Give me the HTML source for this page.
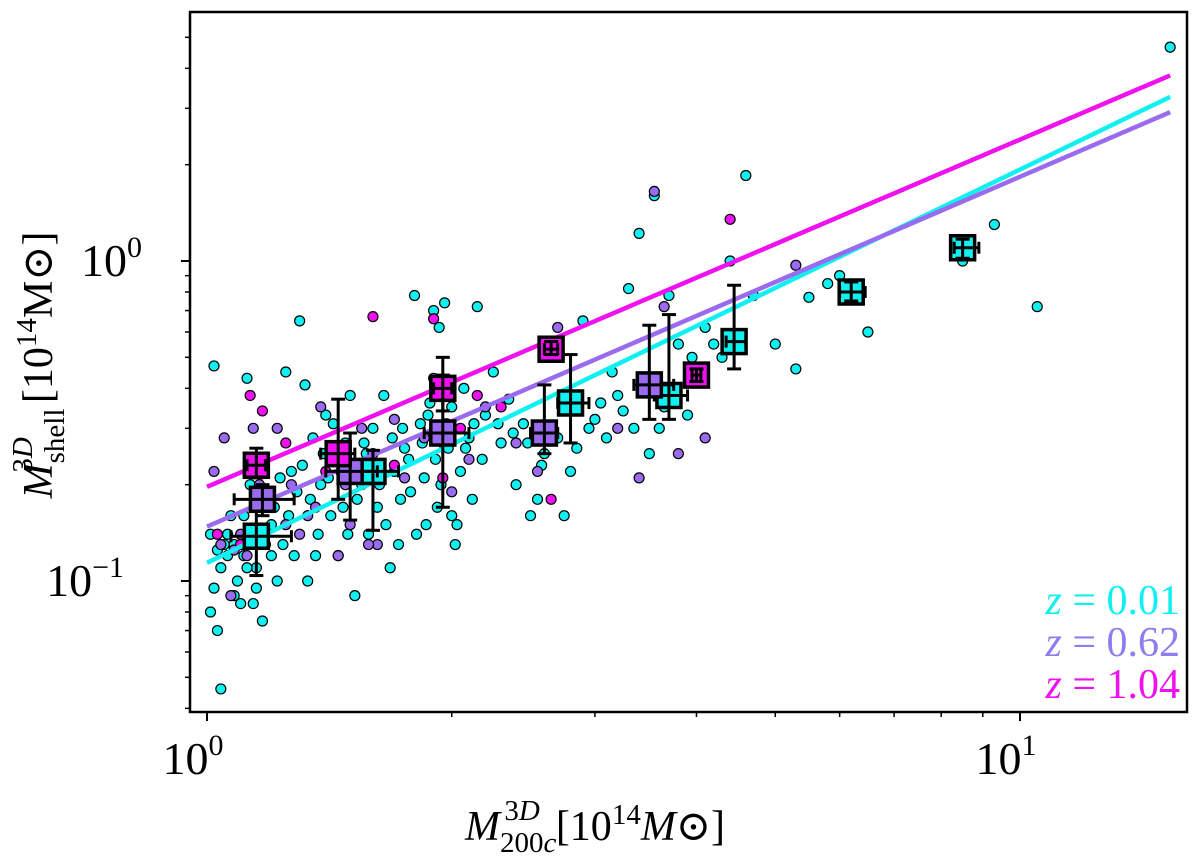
<!DOCTYPE html>
<html><head><meta charset="utf-8">
<style>
html,body{margin:0;padding:0;background:#fff;}
svg{display:block;font-family:"Liberation Serif","DejaVu Serif",serif;}
</style></head>
<body>
<svg id="chart" width="1200" height="860" viewBox="0 0 1200 860" xmlns="http://www.w3.org/2000/svg">
<g id="plot"></g>
<g id="axes"></g>
<text x="595" y="840" font-size="42" text-anchor="middle"><tspan font-style="italic">M</tspan><tspan font-size="29" dy="12">200<tspan font-style="italic">c</tspan></tspan><tspan font-size="29" dy="-32" dx="-52">3<tspan font-style="italic">D</tspan></tspan><tspan dy="20" dx="16">[10</tspan><tspan font-size="29" dy="-16">14</tspan><tspan dy="16" font-style="italic">M</tspan><tspan>⊙]</tspan></text>
<text transform="translate(52,365) rotate(-90)" font-size="42" text-anchor="middle"><tspan font-style="italic">M</tspan><tspan font-size="29" dy="12">shell</tspan><tspan font-size="29" dy="-32" dx="-64">3<tspan font-style="italic">D</tspan></tspan><tspan dy="20" dx="34">[10</tspan><tspan font-size="29" dy="-16">14</tspan><tspan dy="16">M⊙]</tspan></text>
<g font-size="42" text-anchor="end">
<text x="1180" y="614" fill="#11f0f0"><tspan font-style="italic">z</tspan> = 0.01</text>
<text x="1180" y="656" fill="#8a7ef0"><tspan font-style="italic">z</tspan> = 0.62</text>
<text x="1180" y="698" fill="#f011f0"><tspan font-style="italic">z</tspan> = 1.04</text>
</g>
</svg>
<script>
const cyanPts=[[1.02,0.47],[1.03,0.07],[1.04,0.046],[1.01,0.08],[1.05,0.13],[1.06,0.12],[1.08,0.09],[1.1,0.085],[1.12,0.43],[1.13,0.2],[1.15,0.11],[1.17,0.075],[1.2,0.15],[1.22,0.1],[1.25,0.45],[1.28,0.12],[1.3,0.65],[1.32,0.41],[1.35,0.28],[1.37,0.14],[1.4,0.33],[1.42,0.16],[1.45,0.12],[1.48,0.27],[1.5,0.38],[1.52,0.09],[1.55,0.2],[1.58,0.14],[1.6,0.3],[1.62,0.17],[1.65,0.38],[1.7,0.22],[1.72,0.13],[1.75,0.26],[1.78,0.19],[1.8,0.78],[1.83,0.31],[1.86,0.15],[1.9,0.7],[1.93,0.62],[1.96,0.74],[2.0,0.35],[2.03,0.15],[2.05,0.22],[2.1,0.28],[2.15,0.72],[2.2,0.33],[2.3,0.27],[2.4,0.2],[2.45,0.31],[2.5,0.16],[2.6,0.25],[2.65,0.55],[2.75,0.16],[2.8,0.22],[2.9,0.65],[3.0,0.32],[3.1,0.28],[3.2,0.38],[3.3,0.82],[3.4,1.22],[3.5,0.25],[3.55,1.6],[3.6,0.3],[3.7,0.78],[3.8,0.55],[3.9,0.33],[4.1,0.62],[4.3,0.5],[4.4,1.0],[4.6,1.85],[4.7,0.78],[5.0,0.55],[5.3,0.46],[5.5,0.77],[5.8,0.85],[6.5,0.6],[8.5,1.0],[9.3,1.3],[10.5,0.72],[15.3,4.66],[6.0,0.9],[1.07,0.16],[1.11,0.12],[1.16,0.24],[1.19,0.18],[1.24,0.13],[1.27,0.22],[1.33,0.1],[1.38,0.2],[1.44,0.26],[1.47,0.17],[1.57,0.25],[1.68,0.11],[1.74,0.3],[1.85,0.21],[1.88,0.36],[1.92,0.17],[1.98,0.26],[2.02,0.13],[2.07,0.4],[2.12,0.18],[2.25,0.45],[2.35,0.37],[3.15,0.45],[3.35,0.3],[2.55,0.18],[1.14,0.085],[1.09,0.1],[1.04,0.11],[1.03,0.125],[1.06,0.14],[1.08,0.13],[1.12,0.11],[1.15,0.095],[1.18,0.13],[1.21,0.17],[1.23,0.21],[1.26,0.16],[1.29,0.19],[1.31,0.23],[1.34,0.18],[1.36,0.12],[1.39,0.25],[1.41,0.21],[1.43,0.31],[1.46,0.22],[1.49,0.14],[1.53,0.18],[1.56,0.27],[1.59,0.21],[1.63,0.2],[1.66,0.15],[1.69,0.28],[1.73,0.18],[1.77,0.24],[1.81,0.14],[1.84,0.27],[1.87,0.33],[1.91,0.24],[1.94,0.2],[1.97,0.31],[2.0,0.16],[2.08,0.26],[2.13,0.31],[2.18,0.24],[2.28,0.31],[2.38,0.29],[2.48,0.27],[2.58,0.23],[2.7,0.28],[2.85,0.26],[2.95,0.3],[3.05,0.36],[3.25,0.34],[3.45,0.4],[3.65,0.35],[3.95,0.5],[4.2,0.55],[1.01,0.14],[1.02,0.095],[1.11,0.16],[1.2,0.12]];
const purplePts=[[1.02,0.22],[1.05,0.28],[1.07,0.09],[1.1,0.14],[1.14,0.3],[1.18,0.17],[1.22,0.3],[1.27,0.2],[1.33,0.16],[1.38,0.35],[1.42,0.24],[1.5,0.15],[1.55,0.3],[1.62,0.13],[1.7,0.32],[1.75,0.21],[1.85,0.28],[1.9,0.43],[2.0,0.19],[2.1,0.24],[2.2,0.35],[2.55,0.22],[2.7,0.62],[3.2,0.3],[3.4,0.21],[3.55,1.65],[3.65,0.72],[3.8,0.25],[4.1,0.28],[5.3,0.97],[1.3,0.14],[1.45,0.12],[1.12,0.12],[1.6,0.25],[2.4,0.27],[1.04,0.13],[1.08,0.125],[1.16,0.2],[1.25,0.15],[1.36,0.17],[1.48,0.2],[1.58,0.13],[1.95,0.27]];
const magentaPts=[[1.03,0.14],[1.1,0.13],[1.13,0.38],[1.17,0.34],[1.4,0.22],[1.6,0.67],[1.7,0.23],[1.9,0.66],[2.05,0.3],[2.15,0.38],[2.3,0.35],[2.65,0.18],[4.4,1.35],[1.95,0.21],[1.25,0.27]];
// fit lines: y = A * x^b
const fitA=[0.114,0.148,0.197];
const fitB=[1.229,1.093,1.085];
// binned: [x, y, xlo, xhi, ylo, yhi]
const cyanBins=[[1.15,0.138,1.07,1.27,0.104,0.179],[1.6,0.22,1.5,1.72,0.144,0.256],[2.8,0.36,2.7,2.95,0.27,0.51],[3.7,0.38,3.55,3.9,0.32,0.68],[4.45,0.56,4.35,4.6,0.46,0.84],[6.2,0.8,6.0,6.45,0.75,0.86],[8.5,1.1,8.3,8.9,1.02,1.17]];
const purpleBins=[[1.17,0.18,1.08,1.28,0.16,0.2],[1.5,0.22,1.4,1.62,0.155,0.29],[1.95,0.29,1.85,2.1,0.17,0.44],[2.6,0.29,2.5,2.7,0.25,0.41],[3.5,0.41,3.35,3.75,0.32,0.63]];
const magentaBins=[[1.15,0.23,1.12,1.18,0.21,0.26],[1.45,0.25,1.38,1.52,0.18,0.37],[1.95,0.40,1.9,2.0,0.34,0.5],[2.65,0.53,2.6,2.7,0.51,0.56],[4.0,0.44,3.95,4.05,0.42,0.46]];
const xTicks=[1,10];
const xTickLabels=["0","1"];
const yTicks=[0.1,1];
const yTickLabels=["−1","0"];
const colors=["#11f0f0","#9a6bee","#f011f0"];

const NS="http://www.w3.org/2000/svg";
const L=190,R=1187,T=12,B=712;
const x0px=207,xdec=813,y0px=261,ydec=320;
function X(v){return x0px+Math.log10(v)*xdec;}
function Y(v){return y0px-Math.log10(v)*ydec;}
function mk(p,tag,at){const e=document.createElementNS(NS,tag);for(const k in at)e.setAttribute(k,at[k]);p.appendChild(e);return e;}
const plot=document.getElementById('plot'),axes=document.getElementById('axes');
const clip=mk(document.getElementById('chart'),'clipPath',{id:'cp'});
mk(clip,'rect',{x:L,y:T,width:R-L,height:B-T});
plot.setAttribute('clip-path','url(#cp)');

[[cyanPts,0],[purplePts,1],[magentaPts,2]].forEach(([pts,ci])=>{
 pts.forEach(p=>{
  const c=mk(plot,'circle',{cx:X(p[0]),cy:Y(p[1]),r:5,fill:colors[ci],stroke:'#000','stroke-width':1.2});
  
  
 });
});
for(let i=0;i<3;i++){
 const x1=1.0,x2=15.3;
 const ln=mk(plot,'line',{x1:X(x1),y1:Y(fitA[i]*Math.pow(x1,fitB[i])),x2:X(x2),y2:Y(fitA[i]*Math.pow(x2,fitB[i])),stroke:colors[i],'stroke-width':4.5});
 
 
}
[[cyanBins,0],[purpleBins,1],[magentaBins,2]].forEach(([bins,ci])=>{
 bins.forEach(b=>{
  const g=mk(plot,'g',{});
  
  
  const cx=X(b[0]),cy=Y(b[1]);
  mk(g,'rect',{x:cx-12,y:cy-12,width:24,height:24,fill:colors[ci],stroke:'#000','stroke-width':3.5});
  mk(g,'line',{x1:X(b[2]),x2:X(b[3]),y1:cy,y2:cy,stroke:'#000','stroke-width':3});
  mk(g,'line',{x1:cx,x2:cx,y1:Y(b[4]),y2:Y(b[5]),stroke:'#000','stroke-width':3});
  [X(b[2]),X(b[3])].forEach(xx=>mk(g,'line',{x1:xx,x2:xx,y1:cy-6,y2:cy+6,stroke:'#000','stroke-width':3}));
  [Y(b[4]),Y(b[5])].forEach(yy=>mk(g,'line',{x1:cx-7,x2:cx+7,y1:yy,y2:yy,stroke:'#000','stroke-width':3}));
 });
});
const fr=mk(axes,'rect',{x:L,y:T,width:R-L,height:B-T,fill:'none',stroke:'#000','stroke-width':2.5});


xTicks.forEach((v,i)=>{
 mk(axes,'line',{x1:X(v),x2:X(v),y1:B,y2:B+9,stroke:'#000','stroke-width':2});
 const t=mk(axes,'text',{x:X(v)-14,y:774,'font-size':46,'text-anchor':'middle'});
 
 
 t.textContent='10';
 const s=mk(t,'tspan',{'font-size':30,dy:-19});s.textContent=xTickLabels[i];
});
for(let d=0;d<2;d++)for(let m=2;m<10;m++){const v=m*Math.pow(10,d);const px=X(v);if(px>L&&px<R)mk(axes,'line',{x1:px,x2:px,y1:B,y2:B+5,stroke:'#000','stroke-width':1.5});}
yTicks.forEach((v,i)=>{
 mk(axes,'line',{x1:L-9,x2:L,y1:Y(v),y2:Y(v),stroke:'#000','stroke-width':2});
 const t=mk(axes,'text',{x:i===0?124:142,y:Y(v)+15,'font-size':46,'text-anchor':'end'});
 
 
 t.textContent='10';
 const s=mk(t,'tspan',{'font-size':30,dy:-19});s.textContent=yTickLabels[i];
});
for(let d=-2;d<1;d++)for(let m=2;m<10;m++){const v=m*Math.pow(10,d);const py=Y(v);if(py>T&&py<B)mk(axes,'line',{x1:L-5,x2:L,y1:py,y2:py,stroke:'#000','stroke-width':1.5});}
</script>
</body></html>
